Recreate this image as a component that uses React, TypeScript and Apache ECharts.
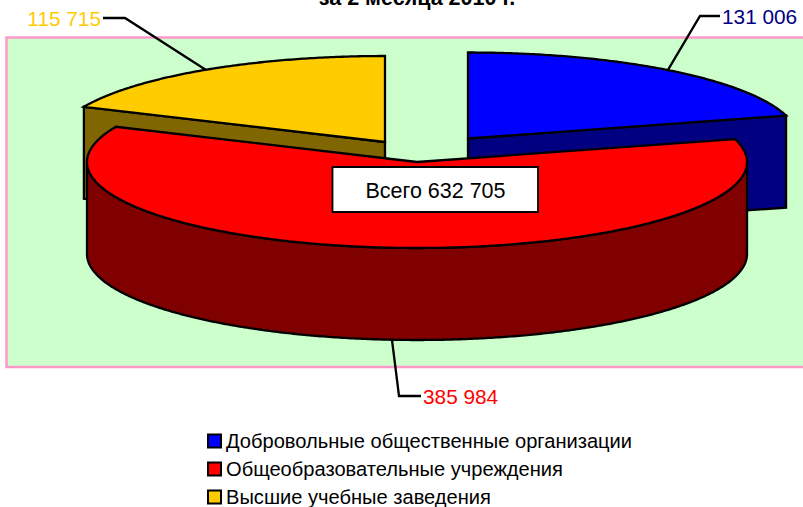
import React, { useEffect, useRef } from "react";
import * as echarts from "echarts";

const categories = [
  "Добровольные общественные организации",
  "Общеобразовательные учреждения",
  "Высшие учебные заведения",
];
const values = [131006, 385984, 115715];
const labels = ["131 006", "385 984", "115 715"];
const totalLabel = "Всего 632 705";
const titleText = "за 2 месяца 2010 г.";
const topColors = ["#0000FF", "#FF0000", "#FFCC00"];
const sideColors = ["#000080", "#800000", "#806600"];
const labelColors = ["#000080", "#FF0000", "#FFCC00"];
const centers = [
  [468, 138.5],
  [417, 162],
  [385, 142],
];
const leaders = [
  [[700, 16], [720, 16]],
  [[399, 396], [421, 396]],
  [[125, 18], [103, 18]],
];
const labelPos = [
  [722, 16, "left"],
  [423, 396, "left"],
  [101, 18, "right"],
];
const RX = 330;
const RY = 86;
const DEPTH = 92;
const FONT = '"Liberation Sans", Arial, sans-serif';

const total = values.reduce((a, b) => a + b, 0);
const ptOn = (c: number[], deg: number, dy = 0) => {
  const r = (deg * Math.PI) / 180;
  return [c[0] + RX * Math.sin(r), c[1] - RY * Math.cos(r) + dy];
};
const arcPts = (c: number[], from: number, to: number, dy = 0) => {
  const out: number[][] = [];
  const n = Math.max(2, Math.ceil(Math.abs(to - from) * 2));
  for (let i = 0; i <= n; i++) out.push(ptOn(c, from + ((to - from) * i) / n, dy));
  return out;
};
const STROKE = { stroke: "#000", lineWidth: 2.3, lineJoin: "miter" as const };

function makeRender(idx: number) {
  return (_params: any, api: any) => {
    const v = api.value(0);
    const before = values.slice(0, idx).reduce((a, b) => a + b, 0);
    const a0 = (before / total) * 360;
    const a1 = a0 + (v / total) * 360;
    const mid = (a0 + a1) / 2;
    const c = centers[idx];
    const children: any[] = [];
    const side = sideColors[idx];
    const face = (deg: number) => {
      const p = ptOn(c, deg);
      children.push({
        type: "polygon",
        shape: { points: [c, p, [p[0], p[1] + DEPTH], [c[0], c[1] + DEPTH]] },
        style: { fill: side, ...STROKE },
      });
    };
    // leader line, from the middle of the slice's rim
    const lowerHalf = mid > 90 && mid < 270;
    const start = ptOn(c, mid, lowerHalf ? DEPTH : 0);
    children.push({
      type: "polyline",
      shape: { points: [start, ...leaders[idx]] },
      style: { fill: "none", ...STROKE },
    });
    // cut faces
    if (idx === 0) face(a1);
    if (idx === 2) face(a0);
    // outer wall on the front half
    const w0 = Math.max(a0, 90);
    const w1 = Math.min(a1, 270);
    if (w1 > w0) {
      children.push({
        type: "polygon",
        shape: { points: [...arcPts(c, w0, w1), ...arcPts(c, w1, w0, DEPTH)] },
        style: { fill: side, ...STROKE },
      });
    }
    // top
    children.push({
      type: "polygon",
      shape: { points: [c, ...arcPts(c, a0, a1)] },
      style: { fill: topColors[idx], ...STROKE },
    });
    const lp = labelPos[idx];
    children.push({
      type: "text",
      x: lp[0],
      y: lp[1],
      style: {
        text: labels[idx],
        fill: labelColors[idx],
        font: `20.8px ${FONT}`,
        align: lp[2],
        verticalAlign: "middle",
      },
    });
    return { type: "group", children };
  };
}

export default function App() {
  const ref = useRef<HTMLDivElement>(null);
  useEffect(() => {
    const chart = echarts.init(ref.current!, null, { renderer: "svg" });
    chart.setOption({
      animation: false,
      backgroundColor: "#fff",
      legend: {
        orient: "vertical",
        left: 207,
        top: 431,
        height: 100,
        padding: 0,
        itemWidth: 13,
        itemHeight: 13,
        itemGap: 8,
        icon: "rect",
        selectedMode: false,
        textStyle: { fontFamily: FONT, fontSize: 20.1, color: "#000", lineHeight: 20 },
        data: categories.map((name, i) => ({
          name,
          itemStyle: { color: topColors[i], borderColor: "#000", borderWidth: 2 },
        })),
      },
      graphic: [
        {
          type: "rect",
          z: 0,
          shape: { x: 6.5, y: 37.5, width: 820, height: 329.5 },
          style: { fill: "#CCFFCC", stroke: "#FF99CC", lineWidth: 2.5 },
        },
        {
          type: "text",
          z: 1,
          x: 417,
          y: 8.5,
          style: {
            text: titleText,
            font: `bold 21.5px ${FONT}`,
            fill: "#000",
            align: "center",
            verticalAlign: "bottom",
          },
        },
        {
          type: "group",
          z: 20,
          children: [
            {
              type: "rect",
              z: 20,
              shape: { x: 332.5, y: 167, width: 205.5, height: 45 },
              style: { fill: "#fff", stroke: "#000", lineWidth: 1.8 },
            },
            {
              type: "text",
              z: 21,
              x: 435.5,
              y: 190.5,
              style: {
                text: totalLabel,
                font: `21.5px ${FONT}`,
                fill: "#000",
                align: "center",
                verticalAlign: "middle",
              },
            },
          ],
        },
      ],
      series: categories.map((name, i) => ({
        type: "custom",
        name,
        coordinateSystem: "none",
        z: i === 1 ? 5 : 3,
        silent: true,
        itemStyle: { color: topColors[i] },
        data: [[values[i]]],
        renderItem: makeRender(i),
      })),
    });
    return () => chart.dispose();
  }, []);
  return (
    <div
      ref={ref}
      style={{ position: "fixed", left: 0, top: 0, width: 803, height: 507 }}
    />
  );
}
